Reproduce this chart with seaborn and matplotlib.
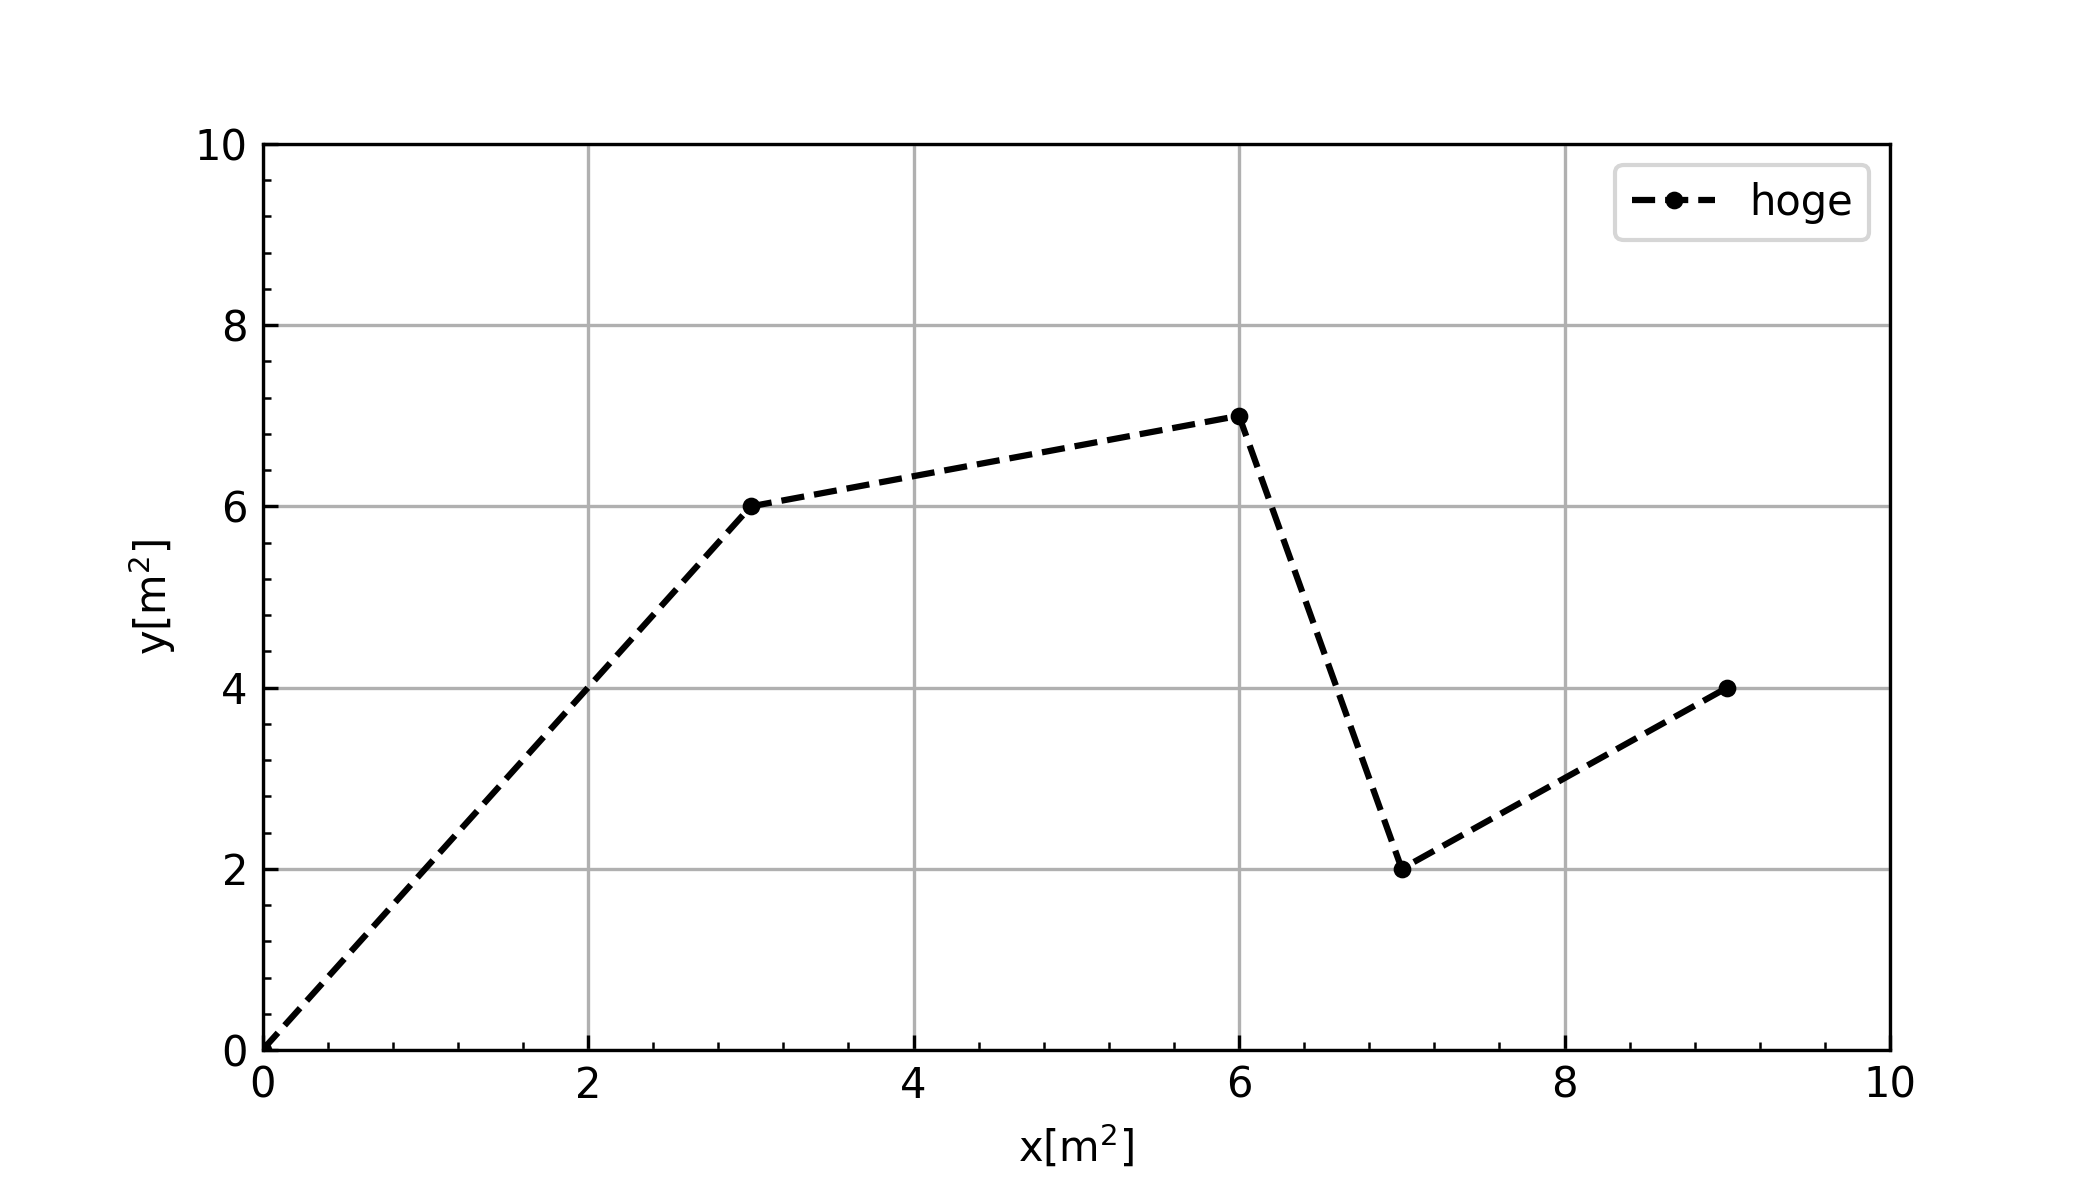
import pandas as pd
import matplotlib
matplotlib.use("Agg")
import matplotlib.pyplot as plt
import seaborn as sns
from matplotlib.ticker import AutoMinorLocator

# data
x_vals = [0, 3, 6, 7, 9]
y_vals = [0, 6, 7, 2, 4]
series_label = "hoge"

df = pd.DataFrame({"x": x_vals, "y": y_vals})

plt.rcParams["xtick.direction"] = "in"
plt.rcParams["ytick.direction"] = "in"
plt.rcParams["font.family"] = ["DejaVu Sans"]

fig, ax = plt.subplots(figsize=(7, 4), dpi=300)
fig.subplots_adjust(left=0.125, right=0.9, top=0.88, bottom=0.125)

sns.lineplot(
    data=df, x="x", y="y", ax=ax,
    color="black", linestyle="--", linewidth=1.5,
    marker="o", markersize=3.5, markeredgecolor="black",
    label=series_label, sort=False
)

ax.set_xlim(0, 10)
ax.set_ylim(0, 10)
ax.xaxis.set_minor_locator(AutoMinorLocator(5))
ax.yaxis.set_minor_locator(AutoMinorLocator(5))
ax.grid(True, which="major", color="#b0b0b0", linewidth=0.8)
ax.set_axisbelow(True)
ax.set_xlabel("x[m$^2$]")
ax.set_ylabel("y[m$^2$]")
ax.legend(loc="upper right")

fig.savefig("out.png", dpi=300)
